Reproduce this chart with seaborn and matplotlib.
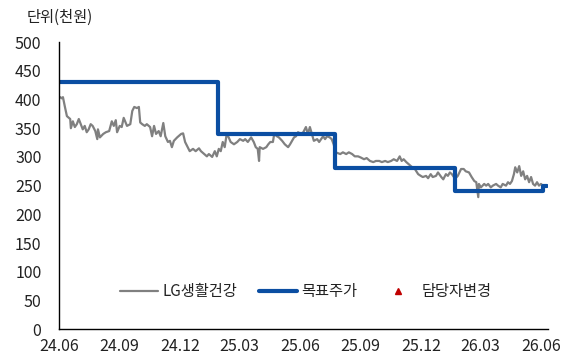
import matplotlib
matplotlib.use("Agg")
import matplotlib.pyplot as plt
import matplotlib.dates as mdates
import pandas as pd
import seaborn as sns

# LG생활건강 daily close (천원)
price_dates = [
    "2024-06-03", "2024-06-05", "2024-06-07", "2024-06-10", "2024-06-13", "2024-06-18", "2024-06-19",
    "2024-06-22", "2024-06-25", "2024-06-28", "2024-07-01", "2024-07-04", "2024-07-07", "2024-07-10",
    "2024-07-13", "2024-07-16", "2024-07-19", "2024-07-22", "2024-07-26", "2024-07-29", "2024-07-30",
    "2024-08-02", "2024-08-07", "2024-08-11", "2024-08-16", "2024-08-20", "2024-08-23", "2024-08-26",
    "2024-08-28", "2024-09-01", "2024-09-04", "2024-09-07", "2024-09-12", "2024-09-17", "2024-09-20",
    "2024-09-23", "2024-09-27", "2024-09-30", "2024-10-02", "2024-10-05", "2024-10-09", "2024-10-12",
    "2024-10-17", "2024-10-20", "2024-10-23", "2024-10-26", "2024-10-30", "2024-11-02", "2024-11-06",
    "2024-11-09", "2024-11-13", "2024-11-16", "2024-11-19", "2024-11-22", "2024-11-27", "2024-12-03",
    "2024-12-06", "2024-12-09", "2024-12-13", "2024-12-16", "2024-12-21", "2024-12-25", "2024-12-30",
    "2025-01-02", "2025-01-07", "2025-01-11", "2025-01-14", "2025-01-19", "2025-01-23", "2025-01-26",
    "2025-01-29", "2025-02-01", "2025-02-04", "2025-02-07", "2025-02-10", "2025-02-13", "2025-02-16",
    "2025-02-21", "2025-02-26", "2025-03-02", "2025-03-07", "2025-03-10", "2025-03-14", "2025-03-19",
    "2025-03-23", "2025-03-26", "2025-03-29", "2025-03-31", "2025-04-01", "2025-04-06", "2025-04-11",
    "2025-04-14", "2025-04-17", "2025-04-21", "2025-04-23", "2025-04-27", "2025-04-30", "2025-05-05",
    "2025-05-09", "2025-05-14", "2025-05-17", "2025-05-20", "2025-05-23", "2025-05-26", "2025-05-29",
    "2025-06-03", "2025-06-06", "2025-06-10", "2025-06-13", "2025-06-16", "2025-06-19", "2025-06-22",
    "2025-06-27", "2025-06-30", "2025-07-03", "2025-07-06", "2025-07-09", "2025-07-12", "2025-07-16",
    "2025-07-19", "2025-07-22", "2025-07-25", "2025-08-01", "2025-08-05", "2025-08-10", "2025-08-14",
    "2025-08-19", "2025-08-23", "2025-08-28", "2025-09-01", "2025-09-06", "2025-09-10", "2025-09-15",
    "2025-09-20", "2025-09-24", "2025-09-29", "2025-10-03", "2025-10-08", "2025-10-12", "2025-10-17",
    "2025-10-21", "2025-10-26", "2025-10-30", "2025-11-02", "2025-11-05", "2025-11-09", "2025-11-13",
    "2025-11-18", "2025-11-22", "2025-11-27", "2025-12-01", "2025-12-04", "2025-12-09", "2025-12-12",
    "2025-12-16", "2025-12-19", "2025-12-24", "2025-12-27", "2026-01-01", "2026-01-04", "2026-01-08",
    "2026-01-11", "2026-01-14", "2026-01-17", "2026-01-22", "2026-01-26", "2026-01-31", "2026-02-04",
    "2026-02-07", "2026-02-12", "2026-02-16", "2026-02-20", "2026-02-23", "2026-02-26", "2026-02-27",
    "2026-03-02", "2026-03-07", "2026-03-10", "2026-03-13", "2026-03-17", "2026-03-20", "2026-03-25",
    "2026-03-28", "2026-04-01", "2026-04-04", "2026-04-09", "2026-04-12", "2026-04-15", "2026-04-18",
    "2026-04-21", "2026-04-23", "2026-04-26", "2026-04-29", "2026-05-02", "2026-05-05", "2026-05-08",
    "2026-05-11", "2026-05-14", "2026-05-17", "2026-05-20", "2026-05-23", "2026-05-26", "2026-05-29",
    "2026-06-01", "2026-06-04",
]
price_values = [
    404, 402, 404, 387, 371, 366, 350,
    362, 352, 357, 366, 357, 348, 354,
    343, 348, 357, 354, 345, 331, 348,
    334, 340, 343, 345, 362, 354, 364,
    343, 354, 352, 368, 354, 357, 380,
    387, 385, 387, 360, 357, 354, 357,
    352, 336, 354, 340, 345, 336, 359,
    336, 326, 328, 317, 328, 334, 340,
    341, 326, 317, 310, 314, 310, 315,
    310, 305, 301, 305, 300, 310, 301,
    314, 310, 326, 317, 340, 334, 326,
    322, 326, 331, 328, 331, 326, 334,
    326, 317, 314, 293, 317, 314, 317,
    322, 326, 326, 340, 336, 334, 328,
    322, 317, 322, 328, 334, 336, 343,
    340, 343, 352, 340, 352, 340, 328,
    331, 326, 331, 336, 331, 336, 334,
    331, 322, 308, 305, 308, 305, 308,
    305, 301, 301, 299, 296, 298, 293,
    291, 293, 293, 291, 293, 291, 293,
    296, 293, 301, 293, 296, 291, 287,
    282, 279, 270, 267, 265, 267, 263,
    270, 265, 267, 273, 265, 261, 270,
    267, 273, 270, 262, 267, 279, 279,
    275, 273, 265, 258, 256, 230, 253,
    247, 253, 250, 253, 247, 250, 253,
    250, 247, 253, 250, 256, 253, 258,
    270, 282, 273, 284, 267, 275, 261,
    267, 256, 265, 253, 250, 256, 250,
    253, 250,
]

# 목표주가 changes (step, held until next change)
target_dates = ["2024-06-01", "2025-01-28", "2025-07-24", "2026-01-22", "2026-06-04", "2026-06-10"]
target_values = [430, 340, 280, 240, 250, 250]

# 담당자변경 events (none in this period)
analyst_change_dates = []
analyst_change_values = []

y_ticks = list(range(0, 501, 50))
x_tick_dates = ["2024-06-01", "2024-09-01", "2024-12-01", "2025-03-01", "2025-06-01",
                "2025-09-01", "2025-12-01", "2026-03-01", "2026-06-01"]

price_df = pd.DataFrame({"date": pd.to_datetime(price_dates), "value": price_values})
target_df = pd.DataFrame({"date": pd.to_datetime(target_dates), "value": target_values})

sns.set_theme(style="white")
plt.rcParams["font.family"] = ["Noto Sans CJK KR", "DejaVu Sans"]

fig = plt.figure(figsize=(5.71, 3.60), dpi=100)
ax = fig.add_axes([0.1033, 0.0853, 0.8557, 0.7980])

GRAY = "#808080"
BLUE = "#0B4EA2"
RED = "#C00000"
TEXT = "#222222"

sns.lineplot(data=price_df, x="date", y="value", ax=ax, color=GRAY, linewidth=1.6,
             label="LG생활건강")
sns.lineplot(data=target_df, x="date", y="value", ax=ax, color=BLUE, linewidth=3.0,
             drawstyle="steps-post", solid_joinstyle="round", solid_capstyle="round",
             label="목표주가")
ax.plot(pd.to_datetime(analyst_change_dates), analyst_change_values, linestyle="none",
        marker="^", markersize=5, color=RED, label="담당자변경")

ax.set_xlim(pd.Timestamp("2024-06-01"), pd.Timestamp("2026-06-11"))
ax.set_ylim(0, 500)
ax.set_yticks(y_ticks)
ax.set_xticks(pd.to_datetime(x_tick_dates))
ax.xaxis.set_major_formatter(mdates.DateFormatter("%y.%m"))
ax.set_xlabel("")
ax.set_ylabel("")

for side in ["top", "right"]:
    ax.spines[side].set_visible(False)
for side in ["left", "bottom"]:
    ax.spines[side].set_color("#000000")
    ax.spines[side].set_linewidth(1.0)

ax.tick_params(axis="both", which="major", direction="out", length=3.6, width=1,
               color="#000000", labelsize=11.5, labelcolor=TEXT)
ax.tick_params(axis="y", pad=9)
ax.tick_params(axis="x", pad=2.5)

ax.legend(loc="center", bbox_to_anchor=(0.505, 0.13), ncol=3, frameon=False,
          fontsize=11, handlelength=2.5, handletextpad=0.3, columnspacing=1.4,
          labelcolor=TEXT)

fig.text(0.047, 0.953, "단위(천원)", fontsize=11, color=TEXT, ha="left", va="center")

fig.savefig("out.png", dpi=100)
